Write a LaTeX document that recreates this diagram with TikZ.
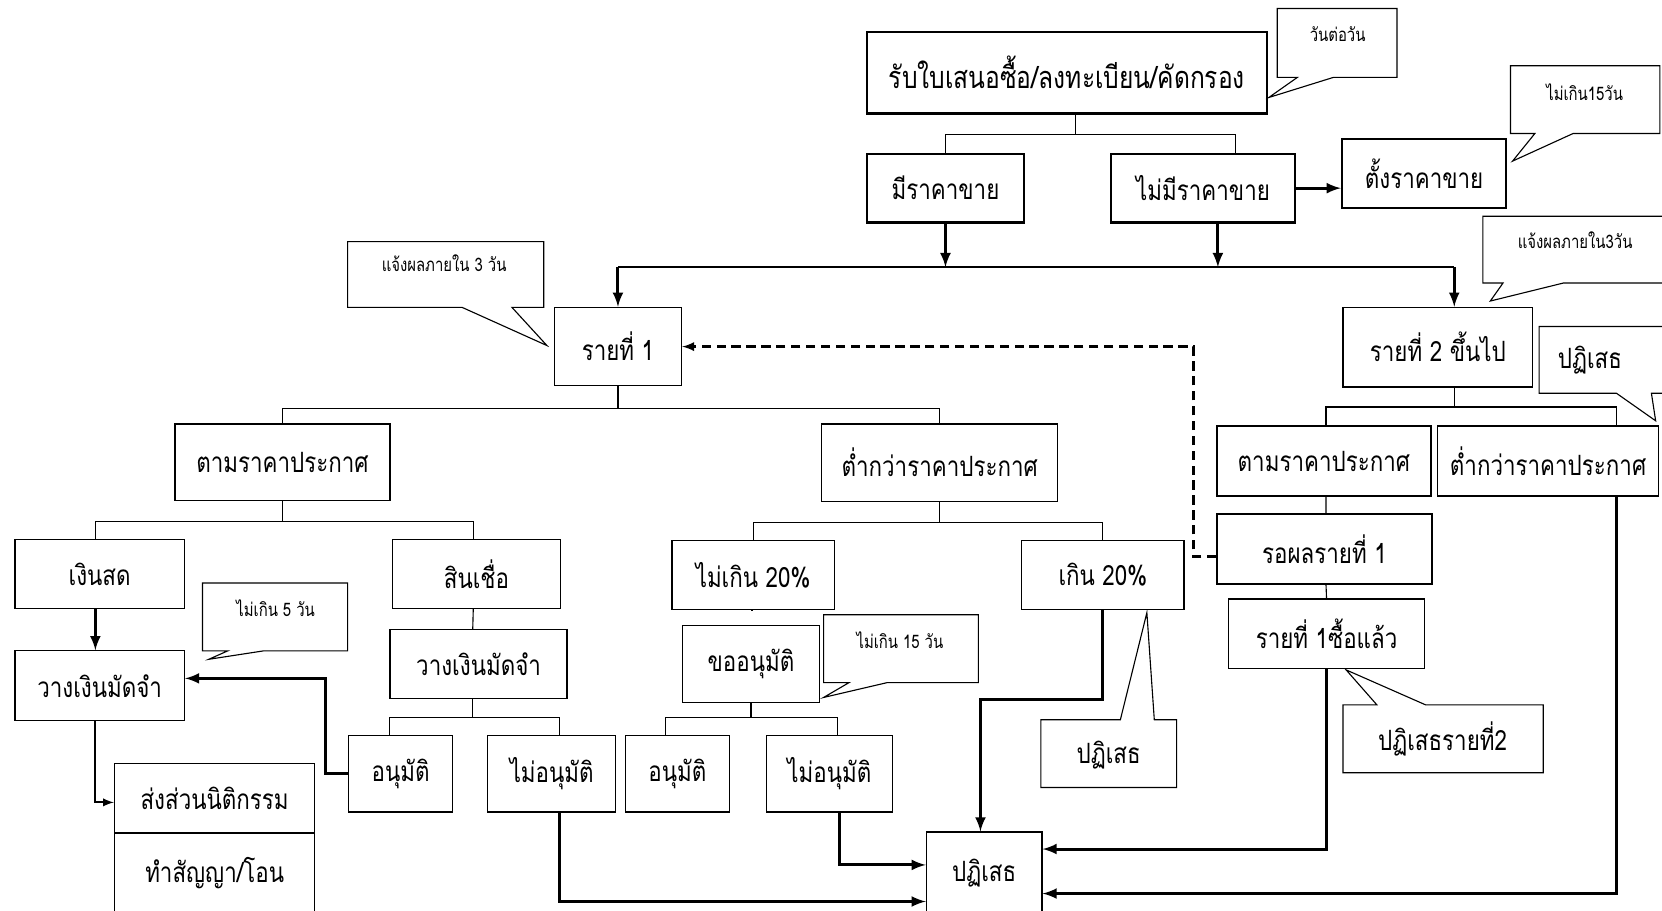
\documentclass[tikz,border=0pt]{standalone}
\usepackage{fontspec}
\newfontfamily\thai[Script=Thai,FakeStretch=0.8]{Loma}
\usetikzlibrary{positioning}
\usetikzlibrary{arrows}
\usetikzlibrary{calc}

\begin{document}
\begin{tikzpicture}
    [x=0.02cm,y=-0.02cm,
     every node/.style={draw,inner sep=0pt,line width=0.7pt,
                        font=\thai\fontsize{15}{18}\selectfont}]

    \tikzstyle{heavy} = [line width=1.2pt]
    \tikzstyle{note}  = [draw=none,font=\thai\fontsize{10}{12}\selectfont]
    \tikzstyle{tree}  = [line width=0.6pt]
    \tikzstyle{arr}   = [-latex,line width=1.6pt]
    \tikzstyle{thin}  = [-latex,line width=1pt]
    \tikzstyle{tip}   = [line width=0.6pt]

    \useasboundingbox (0,0) rectangle (1568,859);

    \node [heavy,minimum width=7.54cm,minimum height=1.54cm,
           font=\thai\fontsize{16.5}{20}\selectfont] (recv) at (1006.5,68.5)
          {รับใบเสนอซื้อ/ลงทะเบียน/คัดกรอง} ;
    \node [heavy,minimum width=2.96cm,minimum height=1.30cm] (price) at (892,177.5) {มีราคาขาย} ;
    \node [heavy,minimum width=3.48cm,minimum height=1.30cm] (noprice) at (1135,177.5) {ไม่มีราคาขาย} ;
    \node [heavy,minimum width=3.10cm,minimum height=1.30cm] (setprice) at (1343.5,163.5) {ตั้งราคาขาย} ;

    \node [minimum width=2.40cm,minimum height=1.48cm] (first) at (583,327) {รายที่ 1} ;
    \node [minimum width=3.58cm,minimum height=1.50cm] (second) at (1356.5,327.5) {รายที่ 2 ขึ้นไป} ;

    \node [minimum width=4.06cm,minimum height=1.44cm] (asann) at (266.5,436) {ตามราคาประกาศ} ;
    \node [minimum width=4.46cm,minimum height=1.46cm] (below) at (886.5,436.5) {ต่ำกว่าราคาประกาศ} ;
    \node [minimum width=3.20cm,minimum height=1.30cm] (cash) at (94,541.5) {เงินสด} ;
    \node [minimum width=3.18cm,minimum height=1.30cm] (credit) at (449.5,541.5) {สินเชื่อ} ;
    \node [minimum width=3.20cm,minimum height=1.32cm] (depa) at (94,647) {วางเงินมัดจำ} ;
    \node [minimum width=3.34cm,minimum height=1.30cm] (depb) at (451.5,626.5) {วางเงินมัดจำ} ;
    \node [minimum width=1.96cm,minimum height=1.44cm] (okA) at (378,730) {อนุมัติ} ;
    \node [minimum width=2.42cm,minimum height=1.44cm] (noA) at (520.5,730) {ไม่อนุมัติ} ;
    \node [minimum width=3.78cm,minimum height=1.32cm] (legal) at (202.5,753) {ส่งส่วนนิติกรรม} ;
    \node [minimum width=3.78cm,minimum height=1.52cm] (deal) at (202.5,824) {ทำสัญญา/โอน} ;

    \node [minimum width=3.06cm,minimum height=1.30cm] (upto) at (710.5,542.5) {ไม่เกิน 20\%} ;
    \node [minimum width=3.06cm,minimum height=1.30cm] (over) at (1040.5,542.5) {เกิน 20\%} ;
    \node [minimum width=2.58cm,minimum height=1.46cm] (ask) at (708.5,626.5) {ขออนุมัติ} ;
    \node [minimum width=1.96cm,minimum height=1.44cm] (okB) at (639,730) {อนุมัติ} ;
    \node [minimum width=2.38cm,minimum height=1.44cm] (noB) at (782.5,730) {ไม่อนุมัติ} ;
    \node [minimum width=2.18cm,minimum height=1.54cm] (reject) at (928.5,823.5) {ปฏิเสธ} ;

    \node [minimum width=4.04cm,minimum height=1.32cm] (rann) at (1249,435) {ตามราคาประกาศ} ;
    \node [minimum width=4.18cm,minimum height=1.32cm] (rbelow) at (1460.5,435) {ต่ำกว่าราคาประกาศ} ;
    \node [minimum width=4.06cm,minimum height=1.32cm] (wait) at (1249.5,518) {รอผลรายที่ 1} ;
    \node [minimum width=3.70cm,minimum height=1.32cm] (bought) at (1251.5,598) {รายที่ 1ซื้อแล้ว} ;

    % callouts
    \draw [tip] (1205,8) -- (1318,8) -- (1318,73) -- (1258,73) -- (1197,92)
                -- (1224,73) -- (1205,73) -- cycle ;
    \node [note] (n1) at (1262,32) {วันต่อวัน} ;
    \draw [tip] (1425,62) -- (1566,62) -- (1566,126) -- (1484,126) -- (1427,152)
                -- (1448,126) -- (1425,126) -- cycle ;
    \node [note] (n2) at (1495,87) {ไม่เกิน15วัน} ;
    \draw [tip] (328,228) -- (513,228) -- (513,290) -- (483,290) -- (516,326)
                -- (436,290) -- (328,290) -- cycle ;
    \node [note] (n3) at (419,248) {แจ้งผลภายใน 3 วัน} ;
    \draw [tip] (1600,204) -- (1399,204) -- (1399,267) -- (1418,267) -- (1406,284)
                -- (1475,267) -- (1600,267) ;
    \node [note] (n4) at (1486,227) {แจ้งผลภายใน3วัน} ;
    \draw [tip] (1600,308) -- (1452,308) -- (1452,371) -- (1525,371) -- (1562,397)
                -- (1558,371) -- (1600,371) ;
    \node [draw=none] (n5) at (1500,340) {ปฏิเสธ} ;
    \draw [tip] (191,550) -- (328,550) -- (328,614) -- (249,614) -- (197,622)
                -- (215,614) -- (191,614) -- cycle ;
    \node [note] (n6) at (260,574) {ไม่เกิน 5 วัน} ;
    \draw [tip] (777,580) -- (923,580) -- (923,644) -- (837,644) -- (777,658)
                -- (801,644) -- (777,644) -- cycle ;
    \node [note] (n7) at (849,604) {ไม่เกิน 15 วัน} ;
    \draw [tip] (982,679) -- (1057,679) -- (1082,578) -- (1089,679) -- (1110,679)
                -- (1110,743) -- (982,743) -- cycle ;
    \node [draw=none] (n8) at (1046,712) {ปฏิเสธ} ;
    \draw [tip] (1267,665) -- (1299,665) -- (1270,632) -- (1345,665) -- (1456,665)
                -- (1456,729) -- (1267,729) -- cycle ;
    \node [draw=none] (n9) at (1361,697) {ปฏิเสธรายที่2} ;

    % tree lines
    \coordinate (ja) at (1015,127) ;
    \draw [tree] (recv.south -| ja) -- (ja) ;
    \draw [tree] (price.north) |- (ja) -| ($(noprice.north)+(31,0)$) ;
    \draw [arr] (noprice.east) -- (noprice.east -| setprice.west) ;

    \coordinate (bus) at (0,252) ;
    \draw [arr] (price.south) -- (price.south |- bus) ;
    \draw [arr] ($(noprice.south)+(14,0)$) -- ($(noprice.south |- bus)+(14,0)$) ;
    \draw [line width=1pt] (first.north |- bus) -- ($(second.north |- bus)+(15.5,0)$) ;
    \draw [arr] (first.north |- bus) -- (first.north) ;
    \draw [arr] ($(second.north |- bus)+(15.5,0)$) -- ($(second.north)+(15.5,0)$) ;

    \draw [-latex,dash pattern=on 5pt off 3pt,line width=1.2pt]
          ($(wait.west)+(0,7)$) -- (1126,525) |- (first.east) ;

    \coordinate (jb) at (first.south |- 0,385) ;
    \draw [tree] (first.south) -- (jb) ;
    \draw [tree] (asann.north) |- (jb) -| (below.north) ;

    \coordinate (jc) at ($(second.south |- 0,384)+(15.5,0)$) ;
    \draw [tree] ($(second.south)+(15.5,0)$) -- (jc) ;
    \draw [tree] ($(rann.north)+(2,0)$) |- (jc) -| ($(rbelow.north)+(64.5,0)$) ;
    \draw [tree] ($(rann.south)+(2,0)$) -- ($(wait.north)+(1.5,0)$) ;
    \draw [tree] ($(wait.south)+(1.5,0)$) -- (bought.north) ;

    \coordinate (jd) at (asann.south |- 0,492) ;
    \draw [tree] (asann.south) -- (jd) ;
    \draw [tree] ($(cash.north)+(-4,0)$) |- (jd) -| ($(credit.north)+(-3,0)$) ;
    \draw [arr] ($(cash.south)+(-4,0)$) -- ($(depa.north)+(-4,0)$) ;
    \draw [tree] ($(credit.south)+(-3,0)$) -- ($(depb.north)+(-5.5,0)$) ;
    \coordinate (je) at ($(depb.south |- 0,677)+(-5.5,0)$) ;
    \draw [tree] ($(depb.south)+(-5.5,0)$) -- (je) ;
    \draw [tree] ($(okA.north)+(-10.5,0)$) |- (je) -| ($(noA.north)+(7.5,0)$) ;

    \coordinate (jf) at (below.south |- 0,493) ;
    \draw [tree] (below.south) -- (jf) ;
    \draw [tree] (upto.north) |- (jf) -| (over.north) ;
    \draw [tree] (upto.south) -- (upto.south -| ask.north) ;
    \coordinate (jg) at (ask.south |- 0,677) ;
    \draw [tree] (ask.south) -- (jg) ;
    \draw [tree] ($(okB.north)+(-11,0)$) |- (jg) -| ($(noB.north)+(7.5,0)$) ;

    \draw [arr] (okA.west) -| (307,640) -- ($(depa.east)+(0,-7)$) ;
    \draw [thin] ($(depa.south)+(-4,0)$) |- ($(legal.west)+(0,4)$) ;

    \draw [arr] ($(noA.south)+(7.5,0)$) |- ($(reject.west)+(0,27)$) ;
    \draw [arr] ($(noB.south)+(9.5,0)$) |- ($(reject.west)+(0,-7.5)$) ;
    \draw [arr] (over.south) -- (over.south |- 0,660) -| ($(reject.north)+(-3.5,0)$) ;
    \draw [arr] (bought.south) |- ($(reject.east)+(0,-22.5)$) ;
    \draw [arr] ($(rbelow.south)+(64.5,0)$) |- ($(reject.east)+(0,19.5)$) ;
\end{tikzpicture}
\end{document}
